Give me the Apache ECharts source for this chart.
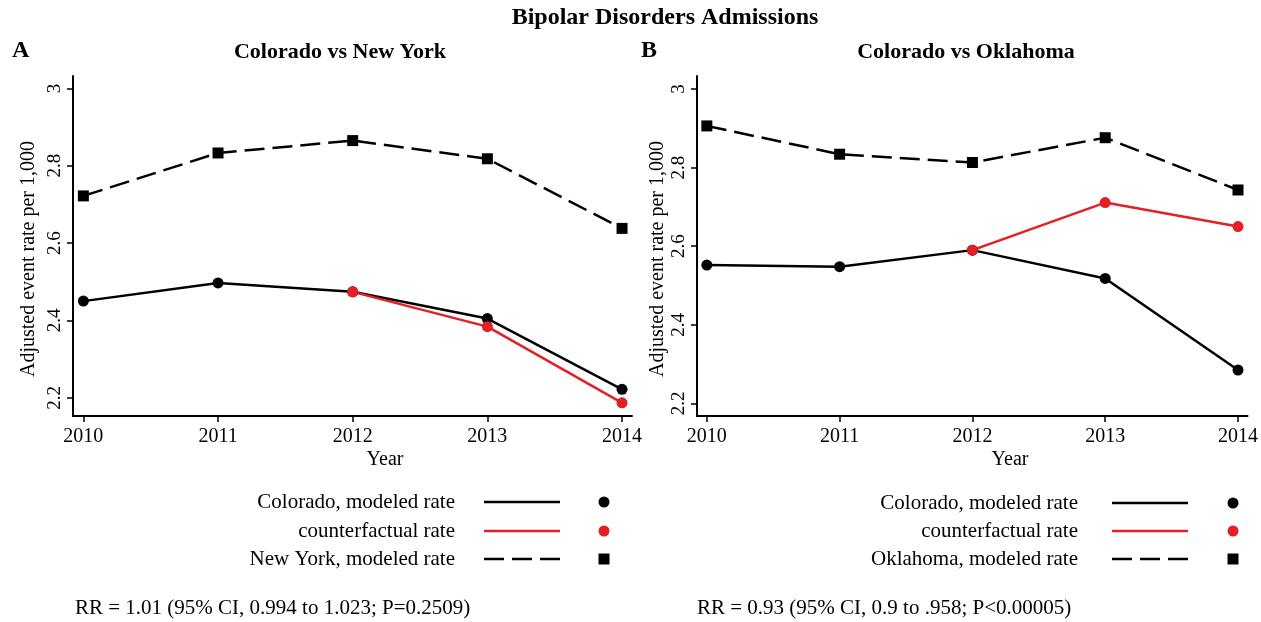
<!DOCTYPE html>
<html>
<head>
<meta charset="utf-8">
<script src="https://cdn.jsdelivr.net/npm/echarts@6/dist/echarts.min.js"></script>
<style>
html,body{margin:0;padding:0;background:#fff;overflow:hidden;}
#chart{width:1261px;height:622px;}
</style>
</head>
<body>
<div id="chart"></div>
<script>
// ---- Data ----
const years = [2010, 2011, 2012, 2013, 2014];
const yTicks = [2.2, 2.4, 2.6, 2.8, 3];
// Panel A: Colorado vs New York
const coloradoA = [2.450, 2.497, 2.474, 2.405, 2.222];
const counterfactualA = [null, null, 2.474, 2.384, 2.187];
const newYork = [2.722, 2.833, 2.865, 2.818, 2.638];
// Panel B: Colorado vs Oklahoma
const coloradoB = [2.552, 2.548, 2.590, 2.518, 2.285];
const counterfactualB = [null, null, 2.590, 2.711, 2.650];
const oklahoma = [2.906, 2.834, 2.813, 2.876, 2.743];

const legendA = ['Colorado, modeled rate', 'counterfactual rate', 'New York, modeled rate'];
const legendB = ['Colorado, modeled rate', 'counterfactual rate', 'Oklahoma, modeled rate'];
const rrA = 'RR = 1.01 (95% CI, 0.994 to 1.023; P=0.2509)';
const rrB = 'RR = 0.93 (95% CI, 0.9 to .958; P<0.00005)';

// ---- Styling ----
const FONT = 'Liberation Serif';
const BLACK = '#000000';
const RED = '#e41f26';

function pairs(arr) {
  return years.map((y, i) => [y, arr[i]]).filter(p => p[1] !== null);
}

function xAxisCfg(gridIndex, min, max) {
  return {
    type: 'value', gridIndex, min, max,
    axisLine: {show: true, onZero: false, lineStyle: {color: BLACK, width: 2}},
    axisTick: {show: true, length: 6, lineStyle: {color: BLACK, width: 1.5}, customValues: years},
    axisLabel: {show: true, margin: 11, fontFamily: FONT, fontSize: 20, color: BLACK,
      customValues: years, formatter: v => String(Math.round(v))},
    splitLine: {show: false}
  };
}
function yAxisCfg(gridIndex, min, max) {
  return {
    type: 'value', gridIndex, min, max,
    axisLine: {show: true, onZero: false, lineStyle: {color: BLACK, width: 2}},
    axisTick: {show: true, length: 6, lineStyle: {color: BLACK, width: 1.5}, customValues: yTicks},
    axisLabel: {show: true, rotate: 90, margin: 8, fontFamily: FONT, fontSize: 19, color: BLACK,
      customValues: yTicks, formatter: v => String(Math.round(v * 10) / 10)},
    splitLine: {show: false}
  };
}
function lineSeries(name, data, idx, color, dashed, symbol) {
  return {
    name, type: 'line', xAxisIndex: idx, yAxisIndex: idx,
    data: pairs(data),
    symbol, symbolSize: symbol === 'rect' ? 11 : 11,
    showSymbol: true,
    itemStyle: {color},
    lineStyle: {color, width: 2.5, type: dashed ? [20, 8] : 'solid'},
    emphasis: {disabled: true},
    animation: false
  };
}

function legendGraphics(labels, textRight, lineX1, lineX2, markerX, rowsY) {
  const out = [];
  const colors = [BLACK, RED, BLACK];
  const dashes = [null, null, [20, 8]];
  const symbols = ['circle', 'circle', 'rect'];
  labels.forEach((lab, i) => {
    const y = rowsY[i];
    out.push({type: 'text', x: textRight, y,
      style: {text: lab, fontFamily: FONT, fontSize: 21, fill: BLACK, textAlign: 'right', textVerticalAlign: 'middle'}});
    out.push({type: 'line', shape: {x1: lineX1, y1: y, x2: lineX2, y2: y},
      style: {stroke: colors[i], lineWidth: 2.5, lineDash: dashes[i]}});
    if (symbols[i] === 'circle') {
      out.push({type: 'circle', shape: {cx: markerX, cy: y, r: 5.5}, style: {fill: colors[i]}});
    } else {
      out.push({type: 'rect', shape: {x: markerX - 5.5, y: y - 5.5, width: 11, height: 11}, style: {fill: colors[i]}});
    }
  });
  return out;
}

const textStyle = (t, size, bold, align) => ({text: t, fontFamily: FONT, fontSize: size,
  fontWeight: bold ? 'bold' : 'normal', fill: BLACK, textAlign: align || 'center', textVerticalAlign: 'middle'});

const graphics = [
  {type: 'text', x: 665, y: 18, style: textStyle('Bipolar Disorders Admissions', 24, true)},
  {type: 'text', x: 12, y: 51, style: textStyle('A', 24, true, 'left')},
  {type: 'text', x: 340, y: 52, style: textStyle('Colorado vs New York', 22, true)},
  {type: 'text', x: 641, y: 51, style: textStyle('B', 24, true, 'left')},
  {type: 'text', x: 966, y: 52, style: textStyle('Colorado vs Oklahoma', 22, true)},
  {type: 'text', x: 29, y: 259, rotation: Math.PI / 2, style: textStyle('Adjusted event rate per 1,000', 20, false)},
  {type: 'text', x: 658, y: 259, rotation: Math.PI / 2, style: textStyle('Adjusted event rate per 1,000', 20, false)},
  {type: 'text', x: 385, y: 460, style: textStyle('Year', 20, false)},
  {type: 'text', x: 1010, y: 460, style: textStyle('Year', 20, false)},
  {type: 'text', x: 75, y: 608, style: textStyle(rrA, 21, false, 'left')},
  {type: 'text', x: 697, y: 608, style: textStyle(rrB, 21, false, 'left')}
].concat(
  legendGraphics(legendA, 455, 484, 560, 604, [502, 531, 559]),
  legendGraphics(legendB, 1078, 1112, 1188, 1233, [503, 531, 559])
);

const option = {
  backgroundColor: '#ffffff',
  animation: false,
  grid: [
    {left: 73, top: 76, width: 559, height: 340},
    {left: 697, top: 76, width: 558, height: 340}
  ],
  xAxis: [xAxisCfg(0, 2009.923, 2014.074), xAxisCfg(1, 2009.926, 2014.072)],
  yAxis: [yAxisCfg(0, 2.153, 3.032), yAxisCfg(1, 2.168, 3.033)],
  series: [
    lineSeries('New York, modeled rate', newYork, 0, BLACK, true, 'rect'),
    lineSeries('Colorado, modeled rate', coloradoA, 0, BLACK, false, 'circle'),
    lineSeries('counterfactual rate', counterfactualA, 0, RED, false, 'circle'),
    lineSeries('Oklahoma, modeled rate', oklahoma, 1, BLACK, true, 'rect'),
    lineSeries('Colorado, modeled rate', coloradoB, 1, BLACK, false, 'circle'),
    lineSeries('counterfactual rate', counterfactualB, 1, RED, false, 'circle')
  ],
  graphic: graphics
};

const chart = echarts.init(document.getElementById('chart'), null, {renderer: 'canvas'});
chart.setOption(option);
</script>
</body>
</html>
